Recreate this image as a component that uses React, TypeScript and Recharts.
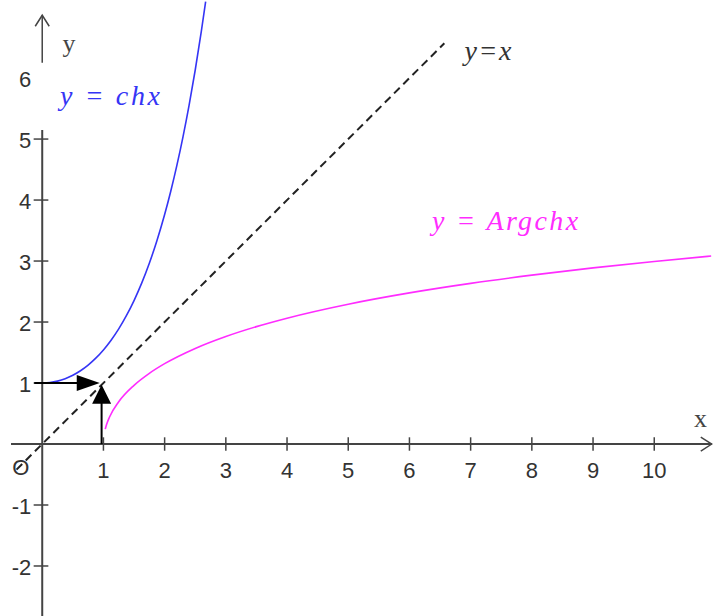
// @ts-nocheck
import { LineChart, Line, XAxis, YAxis, ReferenceLine, ReferenceDot } from 'recharts'

// y = ch x, sampled from 0 up to where it leaves the top of the frame
const chX = [0, 0.125, 0.25, 0.375, 0.5, 0.625, 0.75, 0.875, 1, 1.125, 1.25, 1.375, 1.5, 1.625, 1.75, 1.875, 2, 2.1, 2.2, 2.3, 2.4, 2.5, 2.6, 2.67]
const chY = [1, 1.0078, 1.0314, 1.0711, 1.1276, 1.2017, 1.2947, 1.4078, 1.5431, 1.7024, 1.8884, 2.104, 2.3524, 2.6377, 2.9642, 3.3371, 3.7622, 4.1443, 4.5679, 5.0372, 5.5569, 6.1323, 6.769, 7.255]

// y = Argch x, from just right of x = 1 to the right edge
const argX = [1.03, 1.05, 1.1, 1.25, 1.5, 1.75, 2, 2.5, 3, 3.5, 4, 5, 6, 7, 8, 9, 10, 10.93]
const argY = [0.2444, 0.315, 0.4436, 0.6931, 0.9624, 1.1588, 1.317, 1.5668, 1.7627, 1.9248, 2.0634, 2.2924, 2.4779, 2.6339, 2.7687, 2.8873, 2.9932, 3.0825]

// y = x
const idX = [-0.42, 6.57]
const idY = [-0.42, 6.57]

const xTicks = [1, 2, 3, 4, 5, 6, 7, 8, 9, 10]
const yTicks = [-2, -1, 1, 2, 3, 4, 5]
const yTickLabels = [-2, -1, 1, 2, 3, 4, 5, 6]

const chData = chX.map((x, i) => ({ x, y: chY[i] }))
const argData = argX.map((x, i) => ({ x, y: argY[i] }))
const idData = idX.map((x, i) => ({ x, y: idY[i] }))

const AXIS = '#444'
const tickFont = '"Liberation Sans", Arial, sans-serif'
const mathFont = '"Liberation Serif", "Times New Roman", serif'

function textShape(txt, opts) {
  return (p) => (
    <text x={p.cx} y={p.cy} fill={opts.fill || '#333'} fontSize={opts.size || 22}
      fontFamily={opts.font || tickFont} fontStyle={opts.italic ? 'italic' : 'normal'}
      textAnchor={opts.anchor || 'middle'}
      textLength={opts.width} lengthAdjust={opts.width ? 'spacing' : undefined}>
      {txt}
    </text>
  )
}

// filled arrow head, tip at the dot, pointing 'right' or 'up'
function headShape(dir) {
  return (p) => {
    const { cx, cy } = p
    const pts = dir === 'right'
      ? `${cx},${cy} ${cx - 23},${cy - 8} ${cx - 23},${cy + 8}`
      : `${cx},${cy} ${cx - 9.5},${cy + 19} ${cx + 9.5},${cy + 19}`
    return <polygon points={pts} fill="#000" />
  }
}

// open chevron at the end of an axis
function chevronShape(dir) {
  return (p) => {
    const { cx, cy } = p
    const pts = dir === 'right'
      ? `${cx - 11},${cy - 7} ${cx},${cy} ${cx - 11},${cy + 7}`
      : `${cx - 7},${cy + 11} ${cx},${cy} ${cx + 7},${cy + 11}`
    return <polyline points={pts} fill="none" stroke={AXIS} strokeWidth={1.5} />
  }
}

export default function App() {
  return (
    <div style={{ position: 'absolute', left: 0, top: 0, background: '#fff' }}>
      <LineChart width={713} height={616} margin={{ top: 0, right: 0, bottom: 0, left: 0 }}>
        <XAxis type="number" dataKey="x" domain={[-0.69, 10.96]} allowDataOverflow hide />
        <YAxis type="number" dataKey="y" domain={[-2.82, 7.28]} allowDataOverflow hide />

        {/* axes */}
        <ReferenceLine segment={[{ x: -0.51, y: 0 }, { x: 10.94, y: 0 }]} stroke={AXIS} strokeWidth={2} />
        <ReferenceLine segment={[{ x: 0, y: -2.82 }, { x: 0, y: 5.15 }]} stroke={AXIS} strokeWidth={2} />
        <ReferenceLine segment={[{ x: 0, y: 6.25 }, { x: 0, y: 7.03 }]} stroke={AXIS} strokeWidth={1.5} />
        <ReferenceDot x={10.94} y={0} r={0} shape={chevronShape('right')} />
        <ReferenceDot x={0} y={7.03} r={0} shape={chevronShape('up')} />

        {xTicks.map((t) => (
          <ReferenceLine key={'xt' + t} segment={[{ x: t, y: -0.11 }, { x: t, y: 0.11 }]} stroke={AXIS} strokeWidth={1.5} />
        ))}
        {yTicks.map((t) => (
          <ReferenceLine key={'yt' + t} segment={[{ x: -0.14, y: t }, { x: 0.1, y: t }]} stroke={AXIS} strokeWidth={1.5} />
        ))}
        {xTicks.map((t) => (
          <ReferenceDot key={'xl' + t} x={t} y={-0.55} r={0} shape={textShape(String(t), { fill: '#333' })} />
        ))}
        {yTickLabels.map((t) => (
          <ReferenceDot key={'yl' + t} x={-0.18} y={t - 0.14} r={0}
            shape={textShape(String(t), { fill: '#333', anchor: 'end' })} />
        ))}
        <ReferenceDot x={-0.35} y={-0.51} r={0} shape={textShape('O', { fill: '#333', size: 22 })} />

        <Line data={idData} dataKey="y" type="linear" stroke="#222" strokeWidth={2} strokeDasharray="8 5"
          dot={false} activeDot={false} isAnimationActive={false} />
        <Line data={chData} dataKey="y" type="monotone" stroke="#3535f5" strokeWidth={1.6}
          dot={false} activeDot={false} isAnimationActive={false} />
        <Line data={argData} dataKey="y" type="monotone" stroke="#ff2cff" strokeWidth={1.6}
          dot={false} activeDot={false} isAnimationActive={false} />

        {/* reflection arrows */}
        <ReferenceLine segment={[{ x: -0.13, y: 1 }, { x: 0.6, y: 1 }]} stroke="#000" strokeWidth={2} />
        <ReferenceDot x={0.94} y={1} r={0} shape={headShape('right')} />
        <ReferenceLine segment={[{ x: 0.97, y: 0 }, { x: 0.97, y: 0.75 }]} stroke="#000" strokeWidth={2} />
        <ReferenceDot x={0.97} y={0.97} r={0} shape={headShape('up')} />

        {/* curve names and axis letters */}
        <ReferenceDot x={0.29} y={5.56} r={0}
          shape={textShape('y = chx', { fill: '#3535f5', size: 28, font: mathFont, italic: true, anchor: 'start', width: 100 })} />
        <ReferenceDot x={6.9} y={6.3} r={0}
          shape={textShape('y=x', { fill: '#333', size: 28, font: mathFont, italic: true, anchor: 'start', width: 47 })} />
        <ReferenceDot x={6.37} y={3.51} r={0}
          shape={textShape('y = Argchx', { fill: '#ff2cff', size: 28, font: mathFont, italic: true, anchor: 'start', width: 146 })} />
        <ReferenceDot x={10.65} y={0.28} r={0}
          shape={textShape('x', { fill: '#444', size: 26, font: mathFont, anchor: 'start' })} />
        <ReferenceDot x={0.33} y={6.43} r={0}
          shape={textShape('y', { fill: '#444', size: 26, font: mathFont, anchor: 'start' })} />
      </LineChart>
    </div>
  )
}
